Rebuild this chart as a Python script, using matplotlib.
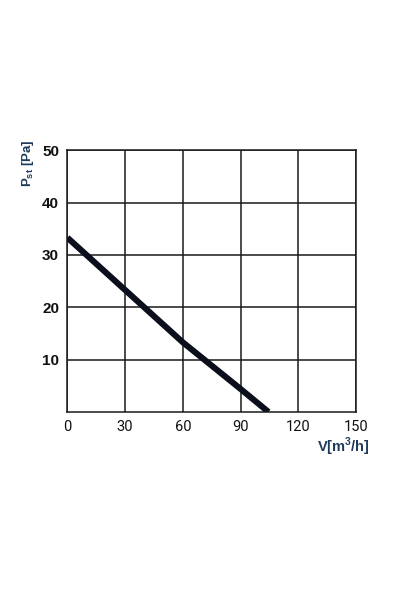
import matplotlib as mpl
mpl.use('Agg')
import matplotlib.pyplot as plt

# curve
flow = [0, 30, 60, 90, 104.5]
pressure = [33.3, 23.3, 13.3, 4.4, 0]

x_ticks = [0, 30, 60, 90, 120, 150]
y_ticks = [10, 20, 30, 40, 50]

navy = '#1f3b5c'
grid_col = '#1a1a1a'

plt.rcParams['mathtext.fontset'] = 'custom'
plt.rcParams['mathtext.bf'] = 'Liberation Sans:bold'
plt.rcParams['mathtext.rm'] = 'Liberation Sans:bold'

fig = plt.figure(figsize=(4.01, 6.01), dpi=100)
ax = fig.add_axes([0.168, 0.3145, 0.720, 0.4356])

ax.plot(flow, pressure, color='#0b0f1c', linewidth=4.4, solid_capstyle='butt')

ax.set_xlim(0, 150)
ax.set_ylim(0, 50)
ax.set_xticks(x_ticks)
ax.set_yticks(y_ticks)
ax.grid(True, color=grid_col, linewidth=1.1)
ax.set_axisbelow(True)
for s in ax.spines.values():
    s.set_color(grid_col)
    s.set_linewidth(1.1)

ax.tick_params(length=0, pad=6)
for lab in ax.get_xticklabels():
    lab.set_family('Roboto')
    lab.set_fontsize(10.5)
    lab.set_color('#111111')
for lab in ax.get_yticklabels():
    lab.set_family('Liberation Sans')
    lab.set_fontweight('bold')
    lab.set_fontsize(11)
    lab.set_color('#111111')

fig.text(0.07, 0.729, r'P$_{\mathrm{st}}$ [Pa]', rotation=90,
         ha='center', va='center', color=navy, fontsize=9.5,
         fontweight='bold', family='Liberation Sans')
fig.text(0.857, 0.256, r'V[m$^{\mathrm{3}}$/h]', ha='center', va='center',
         color=navy, fontsize=10.5, fontweight='bold',
         family='Liberation Sans')

fig.savefig('out.png', dpi=100)
plt.close()
